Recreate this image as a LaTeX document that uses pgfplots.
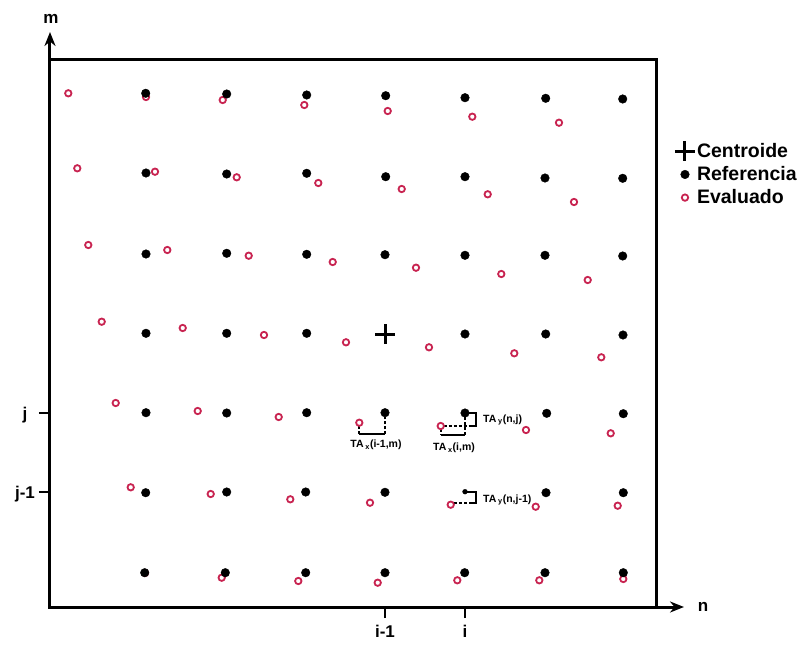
\documentclass[border=0pt]{standalone}
\usepackage{pgfplots}
\pgfplotsset{compat=1.18}
\usepackage{fontspec}
\setmainfont{Liberation Sans}
\usetikzlibrary{arrows.meta}
\definecolor{evalred}{RGB}{200,35,80}
\begin{document}
\begin{tikzpicture}
\begin{axis}[
  scale only axis, width=606pt, height=547pt,
  xmin=50, xmax=656, ymin=39, ymax=586,
  axis line style={line width=3pt},
  xtick={385,465}, xticklabels={\textbf{i-1},\textbf{i}},
  ytick={153.7,233.3}, yticklabels={\textbf{j-1},\textbf{j}},
  tick align=outside, xtick pos=bottom, ytick pos=left,
  major tick length=11pt,
  tick style={line width=2.2pt, black},
  ticklabel style={font=\bfseries\fontsize{17}{20}\selectfont},
  xticklabel style={yshift=-4pt},
  yticklabel style={anchor=center, xshift=-14pt, yshift=-2pt},
  clip=false,
  reverse legend,
  legend cell align=left,
  legend style={at={(axis description cs:1.031,0.852)}, anchor=north west,
    draw=none, fill=none, inner sep=0pt,
    font=\bfseries\fontsize{19.5}{22}\selectfont,
    row sep=3.5pt},
]
% Evaluado (red open circles)
\addplot[only marks, mark=o, mark size=3.2pt, mark options={draw=evalred, line width=1.8pt}] coordinates {
(68.3,552.7) (146,549) (222.7,546) (304.3,541) (387.7,535) (472.3,529.3) (559,523.3)
(77.3,477.7) (155,474.3) (236.7,468.7) (318.3,463) (401.7,457) (487.7,451.7) (574,444)
(88.3,401) (167.3,396) (248.7,390.3) (332.7,384) (416,378.3) (501.3,372) (587.7,366)
(101.7,324.3) (182.7,318) (264,311) (346,303.7) (429,298.7) (514.3,292.7) (601.3,288.7)
(115.7,243) (197.7,235) (278.7,229) (359.3,223.3) (440.7,220) (526,216) (610.7,212.7)
(130.7,158.7) (210.7,152) (290.3,146.7) (370,143.3) (450.7,141.3) (535.7,139.3) (617.7,140.3)
(145,73) (221.7,68.3) (298.3,65) (377.7,63.3) (457.3,65.7) (539.3,65.7) (623.3,67)
};
\addlegendentry{Evaluado}
% Referencia (black dots)
\addplot[only marks, mark=*, mark size=4.3pt, mark options={fill=black, draw=black, line width=0.4pt}] coordinates {
(145.7,552.7) (226.7,552) (306.7,551) (385.7,550.3) (465,548.3) (545.7,547.7) (622.7,547)
(146,473) (226.7,472) (306.7,472.7) (385.7,469.3) (465,469.3) (545,468) (622.7,467.7)
(146,392) (226.7,392.7) (306.7,391.7) (385,391.3) (465,390.7) (545,390.7) (622.7,390)
(146,312.7) (226.7,312.7) (306.7,312.7) (465,312) (545.7,312) (623,311)
(146,233.3) (226.7,233) (306.7,233.3) (385,233.3) (465,233) (546.7,232.7) (623.3,232.3)
(145.7,153.3) (226.7,154) (305.7,154) (385,153.7) (546,153.3) (623.3,153.3)
(144.7,73.3) (225.3,73.3) (305.7,73.3) (385,73.3) (464.7,73.3) (545,73.3) (623.3,73.3)
};
\addlegendentry{Referencia}
\addplot[only marks, mark=*, mark size=2.4pt, mark options={fill=black, draw=black}, forget plot] coordinates {(465,154.3)};
% Centroide
\addplot[only marks, mark=+, mark size=10pt, mark options={line width=3pt, draw=black}] coordinates {(385,312)};
\addlegendentry{Centroide}

% annotations
\begin{scope}[line width=1.7pt]
\draw[dash pattern=on 3pt off 2pt] (axis cs:359.3,220) -- (axis cs:359.3,211.7);
\draw (axis cs:359.3,211.7) -- (axis cs:385,211.7);
\draw[dash pattern=on 3pt off 2pt] (axis cs:385,211.7) -- (axis cs:385,229);
\draw[dash pattern=on 3pt off 2pt] (axis cs:443.5,220) -- (axis cs:470,220);
\draw (axis cs:467,233) -- (axis cs:476,233) -- (axis cs:476,220) -- (axis cs:469,220);
\draw[dash pattern=on 3pt off 2pt] (axis cs:465,229) -- (axis cs:465,211);
\draw (axis cs:440.7,211) -- (axis cs:465,211);
\draw[dash pattern=on 3pt off 2pt] (axis cs:440.7,217) -- (axis cs:440.7,211);
\draw (axis cs:467,154.3) -- (axis cs:476,154.3) -- (axis cs:476,142.7) -- (axis cs:470,142.7);
\draw[dash pattern=on 3pt off 2pt] (axis cs:454,142.7) -- (axis cs:472,142.7);
\end{scope}
\begin{scope}[font=\bfseries\fontsize{10.5}{12}\selectfont]
\node at (axis cs:376,201) {TA\,\textsubscript{x}(i-1,m)};
\node at (axis cs:454,198) {TA\,\textsubscript{x}(i,m)};
\node[anchor=west, inner sep=0pt] at (axis cs:483,226) {TA\,\textsubscript{y}(n,j)};
\node[anchor=west, inner sep=0pt] at (axis cs:483,146) {TA\,\textsubscript{y}(n,j-1)};
\end{scope}

% frame, axis arrows and labels
\draw[line width=3pt] (axis cs:50,39) rectangle (axis cs:656,586);
\draw[line width=3pt, -{Stealth[length=14pt,width=11pt]}] (axis cs:50,39) -- (axis cs:50,614);
\draw[line width=3pt, -{Stealth[length=14pt,width=11pt]}] (axis cs:50,39) -- (axis cs:684,39);
\node[font=\bfseries\fontsize{17}{20}\selectfont] at (axis cs:51,627) {m};
\node[font=\bfseries\fontsize{17}{20}\selectfont] at (axis cs:703,39) {n};

\coordinate (BL) at (axis cs:0,0);
\coordinate (TR) at (axis cs:805,646);
\end{axis}
\pgfresetboundingbox
\path[use as bounding box] (BL) rectangle (TR);
\end{tikzpicture}
\end{document}
